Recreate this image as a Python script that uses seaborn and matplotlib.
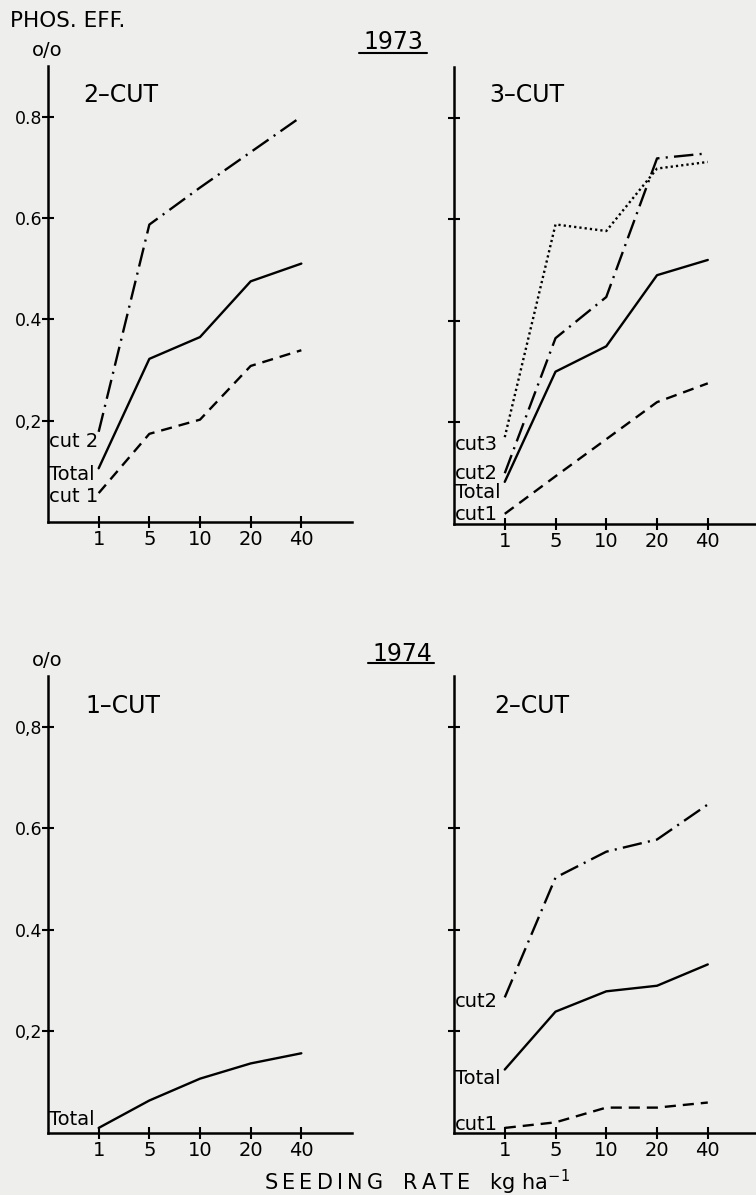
import matplotlib
matplotlib.use('Agg')
import matplotlib.pyplot as plt
import seaborn as sns
from matplotlib.lines import Line2D

# seeding rates (kg/ha), plotted at equal spacing
rates = ['1', '5', '10', '20', '40']
pos = list(range(len(rates)))

# 1973, 2-cut
y73_2cut_total = [0.106, 0.322, 0.365, 0.475, 0.51]
y73_2cut_cut1 = [0.057, 0.174, 0.202, 0.308, 0.339]
y73_2cut_cut2 = [0.178, 0.587, 0.66, 0.73, 0.80]
# 1973, 3-cut
y73_3cut_total = [0.083, 0.30, 0.35, 0.49, 0.52]
y73_3cut_cut1 = [0.02, 0.094, 0.167, 0.24, 0.277]
y73_3cut_cut2 = [0.10, 0.366, 0.447, 0.72, 0.73]
y73_3cut_cut3 = [0.171, 0.59, 0.577, 0.70, 0.713]
# 1974, 1-cut
y74_1cut_total = [0.01, 0.064, 0.107, 0.137, 0.157]
# 1974, 2-cut
y74_2cut_total = [0.125, 0.239, 0.279, 0.29, 0.332]
y74_2cut_cut1 = [0.01, 0.021, 0.05, 0.05, 0.06]
y74_2cut_cut2 = [0.267, 0.503, 0.554, 0.578, 0.647]

ytick_vals = [0.2, 0.4, 0.6, 0.8]
ytick_top = ['0,2', '0.4', '0.6', '0.8']
ytick_bottom = ['0,2', '0.4', '0.6', '0,8']

sns.set_style('ticks')
plt.rcParams['font.family'] = ['DejaVu Sans']
plt.rcParams['text.color'] = 'black'
plt.rcParams['xtick.color'] = 'black'
plt.rcParams['ytick.color'] = 'black'
plt.rcParams['lines.scale_dashes'] = False

BG = '#eeeeec'
W, H = 756, 1195
fig = plt.figure(figsize=(W / 100, H / 100), dpi=100, facecolor=BG)

STY = {
    'total': '-',
    'cut1': (0, (8, 5)),
    'cut2': (0, (14, 4.5, 1.5, 4.5)),
    'cut3': (0, (1.6, 2.2)),
}


def add_axes(left, bottom, top, width):
    return fig.add_axes([left / W, 1 - bottom / H, width / W, (bottom - top) / H])


def style_axes(ax, ylabels, right_edge):
    ax.set_facecolor(BG)
    ax.set_xlim(-1, right_edge)
    ax.set_ylim(0, 0.9)
    sns.despine(ax=ax)
    for s in ['left', 'bottom']:
        ax.spines[s].set_linewidth(1.8)
        ax.spines[s].set_color('black')
    ax.set_xticks(pos)
    ax.set_xticklabels(rates, fontsize=14)
    ax.set_yticks(ytick_vals)
    ax.set_yticklabels(ylabels, fontsize=12.5)
    ax.tick_params(direction='inout', length=8, width=1.5, colors='black')
    ax.tick_params(axis='x', pad=2)
    ax.tick_params(axis='y', pad=0)
    ax.set_xlabel('')
    ax.set_ylabel('')


def draw(ax, vals, key):
    sns.lineplot(x=pos, y=vals, ax=ax, color='black', linewidth=1.7,
                 linestyle=STY[key])


def label(ax, y, txt):
    ax.text(-0.985, y, txt, fontsize=14, ha='left', va='center')


def ftext(x, y, txt, **kw):
    fig.text(x / W, 1 - y / H, txt, va='center', **kw)


# 1973 2-cut
ax1 = add_axes(48, 522, 66, 304)
draw(ax1, y73_2cut_cut2, 'cut2')
draw(ax1, y73_2cut_total, 'total')
draw(ax1, y73_2cut_cut1, 'cut1')
style_axes(ax1, ytick_top, 5)
label(ax1, 0.158, 'cut 2')
label(ax1, 0.093, 'Total')
label(ax1, 0.050, 'cut 1')

# 1973 3-cut
ax2 = add_axes(454, 524, 67, 302)
draw(ax2, y73_3cut_cut3, 'cut3')
draw(ax2, y73_3cut_cut2, 'cut2')
draw(ax2, y73_3cut_total, 'total')
draw(ax2, y73_3cut_cut1, 'cut1')
style_axes(ax2, ['', '', '', ''], 4.95)
label(ax2, 0.156, 'cut3')
label(ax2, 0.100, 'cut2')
label(ax2, 0.063, 'Total')
label(ax2, 0.018, 'cut1')

# 1974 1-cut
ax3 = add_axes(48, 1133, 676, 304)
draw(ax3, y74_1cut_total, 'total')
style_axes(ax3, ytick_bottom, 5)
label(ax3, 0.026, 'Total')

# 1974 2-cut
ax4 = add_axes(454, 1133, 676, 302)
draw(ax4, y74_2cut_cut2, 'cut2')
draw(ax4, y74_2cut_total, 'total')
draw(ax4, y74_2cut_cut1, 'cut1')
style_axes(ax4, ['', '', '', ''], 4.95)
label(ax4, 0.259, 'cut2')
label(ax4, 0.107, 'Total')
label(ax4, 0.017, 'cut1')

# panel titles
ftext(121, 95, '2\u2013CUT', fontsize=17, ha='center')
ftext(527, 95, '3\u2013CUT', fontsize=17, ha='center')
ftext(123, 706, '1\u2013CUT', fontsize=17, ha='center')
ftext(532, 706, '2\u2013CUT', fontsize=17, ha='center')

# headings and axis titles
ftext(10, 21, 'PHOS. EFF.', fontsize=15.5, ha='left')
ftext(47, 51, 'o/o', fontsize=14, ha='center')
ftext(47, 661, 'o/o', fontsize=14, ha='center')
ftext(393, 42, '1973', fontsize=17, ha='center')
ftext(402, 654, '1974', fontsize=17, ha='center')
fig.lines.append(Line2D([359 / W, 427 / W], [1 - 53 / H, 1 - 53 / H],
                        transform=fig.transFigure, color='black', lw=1.5))
fig.lines.append(Line2D([368 / W, 434 / W], [1 - 663 / H, 1 - 663 / H],
                        transform=fig.transFigure, color='black', lw=1.5))
xlab = '\u2009'.join('SEEDING') + '   ' + '\u2009'.join('RATE') + '   kg ha$^{-1}$'
ftext(417, 1182, xlab, fontsize=15, ha='center')

fig.savefig('out.png', dpi=100, facecolor=BG)
